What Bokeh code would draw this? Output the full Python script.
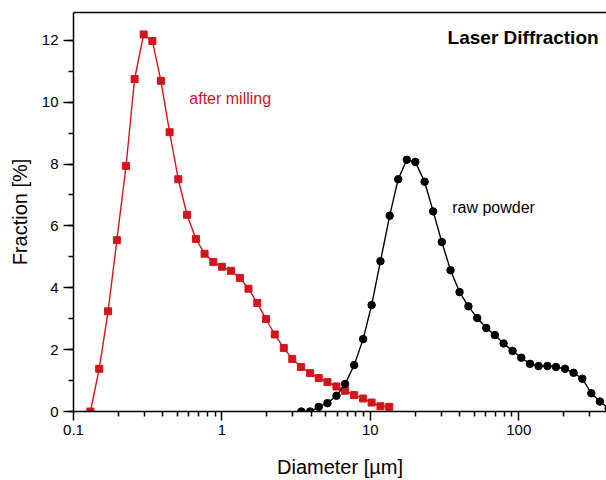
from bokeh.plotting import figure
from bokeh.models import (FixedTicker, SingleIntervalTicker, CustomJSTickFormatter,
                          LogAxis, Label, Range1d, ColumnDataSource)
from bokeh.embed import file_html
from bokeh.resources import INLINE

# ---- data ----
milled_d = [0.130, 0.149, 0.171, 0.196, 0.226, 0.258, 0.297, 0.340, 0.388, 0.444,
            0.508, 0.582, 0.668, 0.764, 0.875, 1.00, 1.15, 1.32, 1.51, 1.73,
            1.98, 2.27, 2.61, 2.98, 3.41, 3.93, 4.49, 5.14, 5.91, 6.76,
            7.78, 8.94, 10.2, 11.7, 13.4]
milled_f = [0.0, 1.38, 3.24, 5.54, 7.94, 10.75, 12.19, 11.98, 10.69, 9.03,
            7.51, 6.36, 5.58, 5.10, 4.83, 4.68, 4.55, 4.32, 3.97, 3.51,
            2.99, 2.49, 2.05, 1.70, 1.44, 1.24, 1.08, 0.95, 0.81, 0.67,
            0.53, 0.42, 0.29, 0.17, 0.15]

raw_d = [3.43, 3.93, 4.49, 5.14, 5.91, 6.76, 7.78, 8.94, 10.2, 11.7,
         13.5, 15.4, 17.6, 20.1, 23.2, 26.5, 30.3, 34.7, 39.9, 45.8,
         52.5, 60.4, 69.0, 79.0, 90.8, 104, 119, 136, 156, 178,
         205, 234, 268, 308, 352, 403]
raw_f = [0.0, 0.0, 0.15, 0.27, 0.51, 0.89, 1.50, 2.34, 3.44, 4.86,
         6.33, 7.51, 8.14, 8.07, 7.43, 6.47, 5.48, 4.57, 3.86, 3.40,
         3.02, 2.70, 2.47, 2.20, 1.96, 1.74, 1.54, 1.47, 1.47, 1.44,
         1.38, 1.25, 1.06, 0.59, 0.32, 0.10]

x_major_ticks = [0.1, 1, 10, 100]
x_minor_ticks = [0.2, 0.3, 0.4, 0.5, 0.6, 0.7, 0.8, 0.9,
                 2, 3, 4, 5, 6, 7, 8, 9,
                 20, 30, 40, 50, 60, 70, 80, 90,
                 200, 300]

RED = "#d3141c"
FONT = "Liberation Sans"

p = figure(width=606, height=480, x_axis_type="log",
           x_range=Range1d(0.1, 390), y_range=Range1d(0, 12.9),
           output_backend="svg", toolbar_location=None,
           min_border_left=73, min_border_right=0, min_border_top=12,
           min_border_bottom=68)
p.outline_line_color = None
p.grid.visible = False
p.background_fill_color = "white"
p.border_fill_color = "white"

src_m = ColumnDataSource(dict(x=milled_d, y=milled_f))
src_r = ColumnDataSource(dict(x=raw_d, y=raw_f))

p.line("x", "y", source=src_m, line_color=RED, line_width=1.4)
p.scatter("x", "y", source=src_m, marker="square", size=7, fill_color=RED,
          line_color=RED)
p.line("x", "y", source=src_r, line_color="black", line_width=1.4)
p.scatter("x", "y", source=src_r, marker="circle", size=7.5, fill_color="black",
          line_color="black")

# axes styling
for ax in (p.xaxis[0], p.yaxis[0]):
    ax.axis_line_width = 1.5
    ax.axis_line_color = "black"
    ax.major_tick_line_width = 1.5
    ax.minor_tick_line_width = 1.5
    ax.major_tick_out = 9
    ax.major_tick_in = 0
    ax.minor_tick_out = 5
    ax.minor_tick_in = 0
    ax.major_label_text_font = FONT
    ax.major_label_text_font_size = "15px"
    ax.major_label_text_color = "black"
    ax.axis_label_text_font = FONT
    ax.axis_label_text_font_size = "20px"
    ax.axis_label_text_font_style = "normal"
    ax.axis_label_text_color = "black"

p.xaxis.ticker = FixedTicker(ticks=x_major_ticks, minor_ticks=x_minor_ticks)
p.xaxis.formatter = CustomJSTickFormatter(
    code="return tick < 1 ? tick.toFixed(1) : tick.toFixed(0);")
p.xaxis.axis_label = "Diameter [\u00b5m]"
p.xaxis.major_label_standoff = 4
p.xaxis.axis_label_standoff = 18

p.yaxis.ticker = SingleIntervalTicker(interval=2, num_minor_ticks=2)
p.yaxis.axis_label = "Fraction [%]"
p.yaxis.major_tick_out = 10
p.yaxis.major_label_standoff = 5
p.yaxis.axis_label_standoff = 8

# top frame line
top = LogAxis(ticker=FixedTicker(ticks=[]), axis_line_width=1.5,
              axis_line_color="black", major_tick_line_color=None,
              minor_tick_line_color=None, major_label_text_font_size="0px",
              major_label_standoff=0)
p.add_layout(top, "above")

p.add_layout(Label(x=0.603, y=10.13, text="after milling", text_color=RED,
                   text_font=FONT, text_font_size="16px", text_baseline="middle"))
p.add_layout(Label(x=35.6, y=6.61, text="raw powder", text_color="black",
                   text_font=FONT, text_font_size="16px", text_baseline="middle"))
p.add_layout(Label(x=345, y=12.10, text="Laser Diffraction", text_color="black",
                   text_font=FONT, text_font_size="19px", text_font_style="bold",
                   text_align="right", text_baseline="middle"))

open("out.html", "w").write(file_html(p, INLINE))
